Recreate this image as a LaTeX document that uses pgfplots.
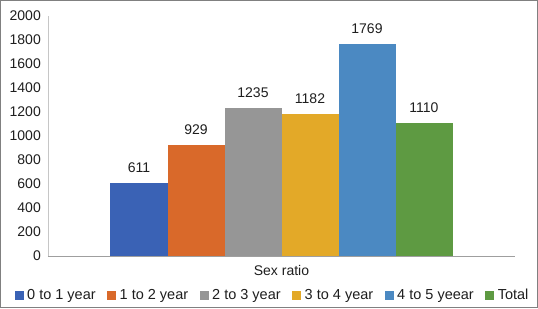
\documentclass[border=0pt]{standalone}
\usepackage{pgfplots}
\pgfplotsset{compat=1.18}
\usepackage{fontspec}
\setmainfont{Liberation Sans}
\definecolor{c1}{HTML}{3A62B5}
\definecolor{c2}{HTML}{D9692A}
\definecolor{c3}{HTML}{969696}
\definecolor{c4}{HTML}{E3A928}
\definecolor{c5}{HTML}{4B89C2}
\definecolor{c6}{HTML}{5E9A42}
\definecolor{frame}{HTML}{808080}
\definecolor{txt}{HTML}{1E1E1E}
\begin{document}
\begin{tikzpicture}
\useasboundingbox (-48pt,-52pt) rectangle (490pt,256pt);
\draw[color=frame, line width=1.3pt] (-47.3pt,-51.3pt) rectangle (489.3pt,255.3pt);
\begin{axis}[
  at={(0pt,0pt)}, anchor=south west,
  scale only axis, width=467pt, height=240pt,
  font=\fontsize{14}{16}\selectfont, text=txt,
  /pgf/number format/assume math mode=true,
  /pgf/number format/1000 sep={},
  ymin=0, ymax=2000, ytick={0,200,...,2000},
  xmin=-1, xmax=1, xtick={0}, xticklabels={Sex ratio},
  axis x line*=bottom, axis y line*=left,
  x axis line style={-, draw=gray!75, line width=0.8pt},
  y axis line style={-, draw=gray!45, line width=0.8pt},
  major tick length=0pt,
  yticklabel style={inner sep=0pt, xshift=-7pt},
  xticklabel style={inner sep=0pt, yshift=-9pt},
  ybar=0pt, bar width=57pt,
  nodes near coords,
  every node near coord/.append style={font=\fontsize{14}{16}\selectfont, text=txt, inner sep=0pt, anchor=south, yshift=10pt},
  legend columns=6,
  legend image code/.code={\fill[#1] (0pt,-4.5pt) rectangle (9pt,4.5pt);},
  legend style={at={(0.4786,-0.1625)}, anchor=center, draw=none, fill=none, inner sep=0pt,
    font=\fontsize{14.5}{16}\selectfont, text=txt,
    nodes={inner sep=0pt},
    /tikz/every odd column/.append style={column sep=3.6pt},
    /tikz/every even column/.append style={column sep=11.4pt}},
]
\addplot[fill=c1, draw=none] coordinates {(0,611)};
\addplot[fill=c2, draw=none] coordinates {(0,929)};
\addplot[fill=c3, draw=none] coordinates {(0,1235)};
\addplot[fill=c4, draw=none] coordinates {(0,1182)};
\addplot[fill=c5, draw=none] coordinates {(0,1769)};
\addplot[fill=c6, draw=none] coordinates {(0,1110)};
\legend{0 to 1 year, 1 to 2 year, 2 to 3 year, 3 to 4 year, 4 to 5 yeear, Total}
\end{axis}
\end{tikzpicture}
\end{document}
